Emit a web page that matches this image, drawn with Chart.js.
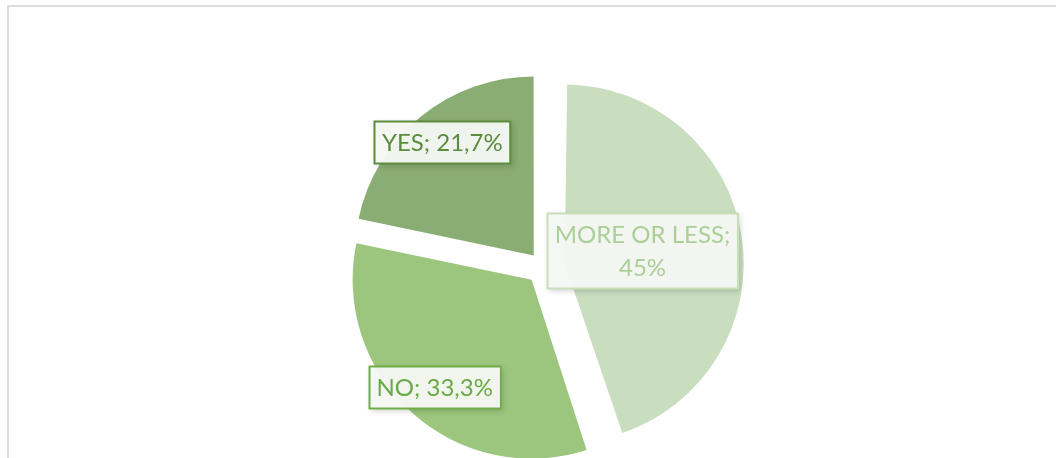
<!DOCTYPE html>
<html>
<head>
<meta charset="utf-8">
<script src="https://cdn.jsdelivr.net/npm/chart.js@4.4.1/dist/chart.umd.min.js"></script>
<style>
  html, body { margin: 0; padding: 0; background: #fff; overflow: hidden; }
  #wrap { position: relative; width: 1056px; height: 458px; }
  #frame { position: absolute; left: 7px; top: 5px; width: 1100px; height: 500px; border: 2px solid #dcdcdc; box-sizing: border-box; }
  canvas { position: absolute; left: 0; top: 0; }
</style>
</head>
<body>
<div id="wrap">
  <div id="frame"></div>
  <canvas id="answers" width="1056" height="458"></canvas>
</div>
<script>
// answers, clockwise from 12 o'clock
const categories = ['MORE OR LESS', 'NO', 'YES'];
const shares = [45, 33.3, 21.7];

const sliceColors = ['#c9ddbf', '#9cc67e', '#8aad73'];
const labelInk = ['#aad098', '#6aaa46', '#5a8c3c'];
const labelEdge = ['#c8dfba', '#70ad47', '#5b8d3d'];
const explode = [88, 68, 59];        // chart.js offset (moves slice by offset / 4)
const labelDist = [0.44, 0.81, 0.81]; // label centre along bisector, share of radius

// chart.js grows an exploded slice's radius a little; keep all slices the same size
const ArcEl = Chart.registry.getElement('arc');
const baseArcDraw = ArcEl.prototype.draw;
ArcEl.prototype.draw = function (ctx) {
    const shift = (this.options.offset || 0) / 4;
    const fix = 1 - Math.sin(Math.min(Math.PI, this.circumference || 0));
    const r = this.outerRadius;
    this.outerRadius = r - shift * fix;
    baseArcDraw.call(this, ctx);
    this.outerRadius = r;
};

const fmt = v => String(v).replace('.', ',') + '%';

const boxLabels = {
    id: 'boxLabels',
    afterDatasetsDraw(chart) {
        const ctx = chart.ctx;
        const meta = chart.getDatasetMeta(0);
        ctx.save();
        ctx.font = '24px Lato, "Open Sans", sans-serif';
        ctx.textAlign = 'center';
        ctx.textBaseline = 'middle';
        meta.data.forEach((arc, i) => {
            const mid = (arc.startAngle + arc.endAngle) / 2;
            const shift = explode[i] / 4;
            const ax = arc.x + Math.cos(mid) * shift;
            const ay = arc.y + Math.sin(mid) * shift;
            const d = labelDist[i] * arc.outerRadius;
            const cx = ax + Math.cos(mid) * d;
            const cy = ay + Math.sin(mid) * d;

            let lines = [categories[i] + '; ' + fmt(shares[i])];
            if (ctx.measureText(lines[0]).width > 170) {
                lines = [categories[i] + ';', fmt(shares[i])];
            }
            const lh = 33;
            const w = Math.max(...lines.map(l => ctx.measureText(l).width)) + 16;
            const h = lines.length * lh + 10;
            const x0 = Math.round(cx - w / 2), y0 = Math.round(cy - h / 2);

            ctx.shadowColor = 'rgba(0,0,0,0.18)';
            ctx.shadowBlur = 6;
            ctx.shadowOffsetX = 2;
            ctx.shadowOffsetY = 2;
            ctx.fillStyle = 'rgba(246,248,244,0.96)';
            ctx.fillRect(x0, y0, w, h);
            ctx.shadowColor = 'transparent';
            ctx.lineWidth = 2;
            ctx.strokeStyle = labelEdge[i];
            ctx.strokeRect(x0 + 0.5, y0 + 0.5, w - 1, h - 1);

            ctx.fillStyle = labelInk[i];
            lines.forEach((l, k) => {
                ctx.fillText(l, cx, y0 + 5 + lh * k + lh / 2 + 1);
            });
        });
        ctx.restore();
    }
};

new Chart(document.getElementById('answers'), {
    type: 'pie',
    data: {
        labels: categories,
        datasets: [{
            data: shares,
            backgroundColor: sliceColors,
            borderWidth: 0,
            offset: explode
        }]
    },
    options: {
        responsive: false,
        animation: false,
        radius: 179,
        layout: { padding: { left: 30, top: 76 } },
        plugins: {
            legend: { display: false },
            tooltip: { enabled: false }
        }
    },
    plugins: [boxLabels]
});
</script>
</body>
</html>
